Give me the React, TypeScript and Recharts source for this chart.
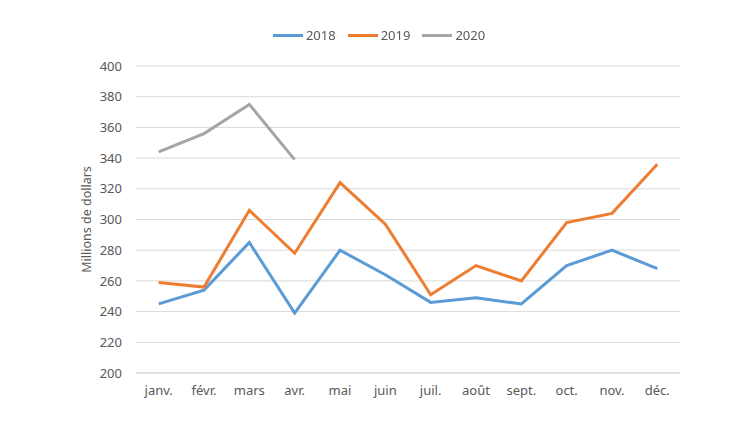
import React from 'react';
import { LineChart, Line, XAxis, YAxis, CartesianGrid } from 'recharts';

const months = ['janv.', 'févr.', 'mars', 'avr.', 'mai', 'juin', 'juil.', 'août', 'sept.', 'oct.', 'nov.', 'déc.'];
const sales2018 = [245, 254, 285, 239, 280, 264, 246, 249, 245, 270, 280, 268];
const sales2019 = [259, 256, 306, 278, 324, 297, 251, 270, 260, 298, 304, 336];
const sales2020 = [344, 356, 375, 339, null, null, null, null, null, null, null, null];
const yTicks = [200, 220, 240, 260, 280, 300, 320, 340, 360, 380, 400];

const series = [
  { key: 'y2018', name: '2018', color: '#5b9bd5' },
  { key: 'y2019', name: '2019', color: '#ed7d31' },
  { key: 'y2020', name: '2020', color: '#a5a5a5' },
];

const data = months.map((m, i) => ({
  month: m,
  y2018: sales2018[i],
  y2019: sales2019[i],
  y2020: sales2020[i],
}));

const FONT = '"Noto Sans", sans-serif';
const TEXT = '#595959';

const LegendRow = () => (
  <div
    style={{
      position: 'absolute', top: 26, left: 4, width: 750,
      display: 'flex', justifyContent: 'center', gap: 12,
      fontFamily: FONT, fontSize: 13, color: TEXT,
    }}
  >
    {series.map(s => (
      <div key={s.key} style={{ display: 'flex', alignItems: 'center' }}>
        <div style={{ width: 30, height: 3, background: s.color, marginRight: 3 }} />
        <span>{s.name}</span>
      </div>
    ))}
  </div>
);

export default function App() {
  return (
    <div style={{ position: 'fixed', left: 0, top: 0, width: 750, height: 422, background: '#fff' }}>
      <LineChart width={750} height={422} data={data} margin={{ top: 66, right: 70, bottom: 19, left: 76 }}>
        <CartesianGrid vertical={false} stroke="#d9d9d9" strokeWidth={1} />
        <XAxis
          dataKey="month"
          height={30}
          padding={{ left: 22.67, right: 22.67 }}
          tickLine={false}
          axisLine={{ stroke: '#d9d9d9' }}
          tick={{ fill: TEXT, fontSize: 13, fontFamily: FONT }}
          tickSize={0}
          tickMargin={13}
          interval={0}
        />
        <YAxis
          width={60}
          domain={[200, 400]}
          ticks={yTicks}
          axisLine={false}
          tickLine={false}
          tickSize={0}
          tickMargin={14}
          tick={{ fill: TEXT, fontSize: 13, fontFamily: FONT }}
          label={{
            value: 'Millions de dollars',
            angle: -90,
            position: 'insideLeft',
            offset: 11,
            style: { fill: TEXT, fontSize: 12.5, fontFamily: FONT, textAnchor: 'middle' },
          }}
        />
        {series.map(s => (
          <Line
            key={s.key}
            type="linear"
            dataKey={s.key}
            name={s.name}
            stroke={s.color}
            strokeWidth={3}
            dot={false}
            activeDot={false}
            isAnimationActive={false}
          />
        ))}
      </LineChart>
      <LegendRow />
    </div>
  );
}
